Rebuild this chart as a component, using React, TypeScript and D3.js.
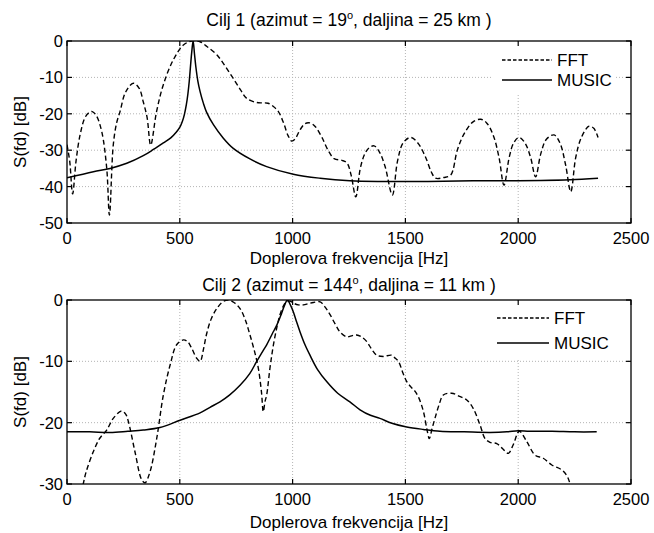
import React from "react";
import * as d3 from "d3";

// ---------- data ----------
const xTicks = [0, 500, 1000, 1500, 2000, 2500];
const yTicksTop = [0, -10, -20, -30, -40, -50];
const yTicksBottom = [0, -10, -20, -30];
const seriesNames = ["FFT", "MUSIC"];

const fft1Hz = [0, 12, 25, 40, 58, 80, 100, 112, 130, 154, 176, 188, 205, 220, 235, 260, 294, 320, 338, 355, 371, 397, 427, 471, 516, 553, 590, 620, 664, 700, 737, 770, 797, 841, 870, 891, 915, 937, 960, 980, 996, 1010, 1033, 1055, 1077, 1100, 1130, 1157, 1184, 1219, 1241, 1260, 1280, 1300, 1320, 1340, 1361, 1385, 1410, 1442, 1465, 1490, 1523, 1555, 1590, 1615, 1634, 1670, 1701, 1730, 1760, 1800, 1834, 1860, 1890, 1915, 1937, 1960, 1980, 2004, 2030, 2055, 2077, 2100, 2125, 2159, 2185, 2210, 2233, 2255, 2280, 2314, 2335, 2354];
const fft1dB = [-28.5, -33, -42, -33, -25.8, -21, -19.6, -19.4, -20.5, -24.9, -34.9, -47.8, -28.6, -22.5, -19.4, -14, -11.6, -13, -16.7, -21, -28.6, -19.4, -12, -5.2, -1.1, 0, -0.2, -1.5, -3.8, -6.8, -10.3, -13.5, -15.8, -16.9, -17, -17.1, -18, -19.4, -22.5, -26, -27.5, -27, -24.4, -22.7, -22.5, -23.5, -26.5, -30, -32.3, -32.8, -33.5, -37, -42.8, -35, -31, -29.3, -28.8, -30.5, -34.5, -42.3, -33, -28, -26.5, -28, -32, -36, -37.7, -37.5, -36.8, -30, -25.5, -22.2, -21.5, -22.5, -26, -32, -39.6, -32, -28, -26.5, -28, -32, -37.3, -31, -27, -25.8, -28, -34, -41.4, -32, -26.5, -23.4, -24, -26.5];

const music1Hz = [0, 117, 191, 265, 338, 383, 427, 460, 485, 501, 512, 521, 529, 536, 542, 548, 553, 559, 565, 571, 580, 590, 604, 619, 649, 693, 737, 811, 885, 1003, 1122, 1254, 1400, 1600, 1800, 1950, 2100, 2230, 2354];
const music1dB = [-37.6, -35.9, -35, -33.6, -31.5, -29.8, -28, -26.6, -25, -23.6, -22, -20, -17.5, -14.5, -11, -6.5, -3, 0, -3.5, -7, -11, -13.9, -17, -19.6, -23, -26.7, -29.5, -32.4, -34.5, -36.6, -37.7, -38.4, -38.6, -38.6, -38.4, -38.4, -38.3, -38.1, -37.7];

const fft2Hz = [50, 72, 85, 117, 146, 176, 205, 242, 260, 272, 301, 331, 346, 368, 398, 427, 457, 486, 516, 535, 553, 575, 590, 605, 619, 640, 664, 690, 715, 740, 767, 790, 811, 830, 848, 862, 870, 878, 885, 900, 915, 930, 944, 960, 974, 990, 1003, 1025, 1048, 1070, 1092, 1122, 1145, 1166, 1190, 1210, 1240, 1265, 1284, 1305, 1329, 1350, 1373, 1402, 1439, 1455, 1469, 1490, 1506, 1525, 1543, 1560, 1580, 1595, 1606, 1618, 1631, 1650, 1668, 1705, 1740, 1772, 1801, 1831, 1853, 1875, 1905, 1930, 1956, 1978, 2005, 2038, 2075, 2111, 2149, 2193, 2218, 2233, 2245];
const fft2dB = [-34, -30, -28, -24.7, -22.5, -21.2, -19.3, -18.1, -18.6, -19.8, -24.7, -29.3, -29.8, -28, -22.5, -15.5, -10.6, -7.3, -6.5, -6.8, -7.9, -9.5, -10, -8, -5.5, -3, -1.4, -0.3, 0, -0.4, -1.4, -3.2, -5.7, -8.2, -11.1, -15, -18.2, -16.5, -15.5, -11, -7.3, -4.5, -2.4, -0.9, -0.3, -0.2, -0.5, -0.8, -0.8, -0.6, -0.4, -0.3, -1.2, -2.4, -4, -5.2, -6, -5.8, -5.7, -6, -6.8, -8, -9, -9.2, -9, -9.5, -10, -12, -13.3, -14.2, -14.9, -16, -18.2, -21, -22.6, -21, -19.3, -17, -15.5, -15.2, -15.7, -16.3, -17.7, -20.4, -22.6, -23.2, -23.4, -24.2, -25, -23.6, -21.4, -23.1, -25.3, -25.8, -26.9, -27.7, -28.8, -30.4, -32];

const music2Hz = [0, 100, 191, 270, 338, 412, 501, 590, 634, 678, 720, 767, 810, 841, 870, 885, 910, 930, 950, 965, 977, 990, 1003, 1018, 1033, 1055, 1077, 1110, 1151, 1200, 1254, 1299, 1345, 1387, 1440, 1506, 1580, 1653, 1760, 1875, 1950, 2000, 2050, 2150, 2250, 2348];
const music2dB = [-21.5, -21.5, -21.6, -21.4, -21.2, -20.8, -19.6, -18.4, -17.5, -16.6, -15.5, -13.9, -12, -10, -8.2, -7.3, -5.5, -4.1, -2.3, -0.8, 0, -0.8, -1.9, -3.6, -5.2, -7.3, -9, -11.3, -13.3, -15.2, -16.6, -17.9, -18.8, -19.3, -20.1, -20.7, -21.1, -21.4, -21.5, -21.6, -21.5, -21.3, -21.4, -21.4, -21.5, -21.5];

const FONT = "'Liberation Sans', Arial, Helvetica, sans-serif";
const TICK_FS = 16.5;
const LABEL_FS = 17;
const TITLE_FS = 17.5;

type PanelProps = {
  id: string;
  top: number;
  bottom: number;
  yMin: number;
  yTicks: number[];
  titleY: number;
  xLabelY: number;
  titlePre: string;
  titleSup: string;
  titlePost: string;
  fftX: number[];
  fftY: number[];
  musX: number[];
  musY: number[];
  legend: { x: number; y: number; w: number; h: number; lx1: number; lx2: number; tx: number; y1: number; y2: number };
};

const LEFT = 67;
const RIGHT = 631;

function Panel(p: PanelProps) {
  const x = d3.scaleLinear().domain([0, 2500]).range([LEFT, RIGHT]);
  const y = d3.scaleLinear().domain([p.yMin, 0]).range([p.bottom, p.top]);
  const line = d3
    .line<[number, number]>()
    .x((d) => x(d[0]))
    .y((d) => y(d[1]))
    .curve(d3.curveCatmullRom.alpha(0.5));
  const fftPts = p.fftX.map((v, i) => [v, p.fftY[i]] as [number, number]);
  const musPts = p.musX.map((v, i) => [v, p.musY[i]] as [number, number]);
  const clipId = "clip-" + p.id;
  const L = p.legend;
  const tickLen = 5;
  return (
    <g>
      <defs>
        <clipPath id={clipId}>
          <rect x={LEFT} y={p.top} width={RIGHT - LEFT} height={p.bottom - p.top} />
        </clipPath>
      </defs>
      {xTicks.slice(1, -1).map((t) => (
        <line key={"gx" + t} x1={x(t)} x2={x(t)} y1={p.top} y2={p.bottom} stroke="#b4b4b4" strokeWidth={1} strokeDasharray="1,2" />
      ))}
      {p.yTicks.slice(1, -1).map((t) => (
        <line key={"gy" + t} x1={LEFT} x2={RIGHT} y1={y(t)} y2={y(t)} stroke="#b4b4b4" strokeWidth={1} strokeDasharray="1,2" />
      ))}
      <rect x={L.x} y={L.y} width={L.w} height={L.h} fill="white" />
      <g clipPath={`url(#${clipId})`}>
        <path d={line(fftPts) || ""} fill="none" stroke="black" strokeWidth={1.4} strokeDasharray="5,3" />
        <path d={line(musPts) || ""} fill="none" stroke="black" strokeWidth={1.5} />
      </g>
      <rect x={LEFT} y={p.top} width={RIGHT - LEFT} height={p.bottom - p.top} fill="none" stroke="black" strokeWidth={1.3} />
      {xTicks.map((t) => (
        <g key={"tx" + t}>
          <line x1={x(t)} x2={x(t)} y1={p.bottom} y2={p.bottom - tickLen} stroke="black" strokeWidth={1.2} />
          <line x1={x(t)} x2={x(t)} y1={p.top} y2={p.top + tickLen} stroke="black" strokeWidth={1.2} />
          <text x={x(t)} y={p.bottom + 21} textAnchor="middle" fontSize={TICK_FS} fontFamily={FONT}>
            {t}
          </text>
        </g>
      ))}
      {p.yTicks.map((t) => (
        <g key={"ty" + t}>
          <line x1={LEFT} x2={LEFT + tickLen} y1={y(t)} y2={y(t)} stroke="black" strokeWidth={1.2} />
          <line x1={RIGHT} x2={RIGHT - tickLen} y1={y(t)} y2={y(t)} stroke="black" strokeWidth={1.2} />
          <text x={LEFT - 4} y={y(t) + 6} textAnchor="end" fontSize={TICK_FS} fontFamily={FONT}>
            {t}
          </text>
        </g>
      ))}
      <text x={(LEFT + RIGHT) / 2} y={p.xLabelY} textAnchor="middle" fontSize={LABEL_FS} fontFamily={FONT}>
        Doplerova frekvencija [Hz]
      </text>
      <text
        transform={`translate(26,${(p.top + p.bottom) / 2}) rotate(-90)`}
        textAnchor="middle"
        fontSize={LABEL_FS}
        fontFamily={FONT}
      >
        S(fd) [dB]
      </text>
      <text x={(LEFT + RIGHT) / 2} y={p.titleY} textAnchor="middle" fontSize={TITLE_FS} fontFamily={FONT}>
        {p.titlePre}
        <tspan fontSize={11} dy={-7}>{p.titleSup}</tspan>
        <tspan dy={7}>{p.titlePost}</tspan>
      </text>
      <line x1={L.lx1} x2={L.lx2} y1={L.y1} y2={L.y1} stroke="black" strokeWidth={1.3} strokeDasharray="3.5,2" />
      <text x={L.tx} y={L.y1 + 6} fontSize={LABEL_FS} fontFamily={FONT}>{seriesNames[0]}</text>
      <line x1={L.lx1} x2={L.lx2} y1={L.y2} y2={L.y2} stroke="black" strokeWidth={1.4} />
      <text x={L.tx} y={L.y2 + 6} fontSize={LABEL_FS} fontFamily={FONT}>{seriesNames[1]}</text>
    </g>
  );
}

export default function App() {
  return (
    <svg width={654} height={533} style={{ position: "absolute", left: 0, top: 0, background: "white" }}>
      <rect width={654} height={533} fill="white" />
      <Panel
        id="a"
        top={41}
        bottom={223}
        yMin={-50}
        yTicks={yTicksTop}
        titleY={26}
        xLabelY={264}
        titlePre="Cilj 1 (azimut = 19"
        titleSup="o"
        titlePost=", daljina = 25 km )"
        fftX={fft1Hz}
        fftY={fft1dB}
        musX={music1Hz}
        musY={music1dB}
        legend={{ x: 492, y: 42, w: 122, h: 51, lx1: 502, lx2: 552, tx: 557, y1: 60, y2: 80 }}
      />
      <Panel
        id="b"
        top={300}
        bottom={484}
        yMin={-30}
        yTicks={yTicksBottom}
        titleY={291}
        xLabelY={528}
        titlePre="Cilj 2 (azimut = 144"
        titleSup="o"
        titlePost=", daljina = 11 km )"
        fftX={fft2Hz}
        fftY={fft2dB}
        musX={music2Hz}
        musY={music2dB}
        legend={{ x: 488, y: 301, w: 126, h: 57, lx1: 497, lx2: 549, tx: 554, y1: 318, y2: 343 }}
      />
    </svg>
  );
}
